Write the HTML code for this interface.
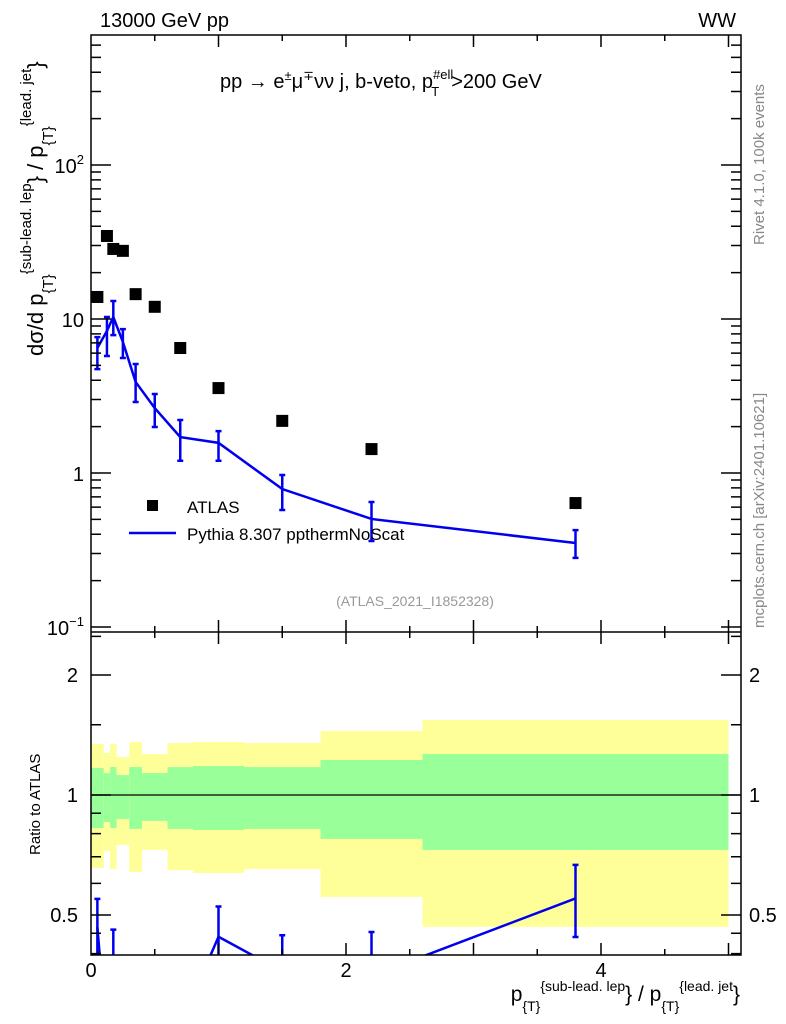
<!DOCTYPE html>
<html><head><meta charset="utf-8"><style>
body{margin:0;background:#fff;overflow:hidden;}
svg{display:block;font-family:"Liberation Sans",sans-serif;}
</style></head><body>
<svg id="chart" width="786" height="1024" viewBox="0 0 786 1024">
<defs>
<clipPath id="mainClip"><rect x="91" y="35" width="650" height="597"/></clipPath>
<clipPath id="ratioClip"><rect x="91" y="632" width="650" height="323"/></clipPath>
</defs>
<g id="bands" clip-path="url(#ratioClip)"></g>
<g id="ratio" clip-path="url(#ratioClip)"></g>
<g id="main" clip-path="url(#mainClip)"></g>
<g id="axes"></g>
<text x="100" y="27" font-size="20">13000 GeV pp</text>
<text x="736" y="27" font-size="20" text-anchor="end">WW</text>
<text x="220" y="88" font-size="20">pp  →  e<tspan font-size="13" dy="-8">±</tspan><tspan dy="8">μ</tspan><tspan font-size="13" dy="-8">∓</tspan><tspan dy="8">νν j, b-veto, p</tspan><tspan font-size="13" dy="-9">#ell</tspan><tspan font-size="13" dx="-22" dy="17">T</tspan><tspan dx="12" dy="-8">&gt;200 GeV</tspan></text>
<text x="415" y="606" font-size="14" fill="#999" text-anchor="middle">(ATLAS_2021_I1852328)</text>
<rect x="147" y="500" width="11" height="11" fill="#000"/>
<text x="187" y="513" font-size="17">ATLAS</text>
<line x1="129" y1="533" x2="176" y2="533" stroke="#0000ee" stroke-width="2.5"/>
<text x="187" y="540" font-size="17">Pythia 8.307 ppthermNoScat</text>
<text transform="translate(764,245) rotate(-90)" font-size="15" fill="#888">Rivet 4.1.0,  100k events</text>
<text transform="translate(764,628) rotate(-90)" font-size="15" fill="#888">mcplots.cern.ch [arXiv:2401.10621]</text>
<text transform="translate(43,356) rotate(-90)" font-size="22">dσ/d p<tspan font-size="15" dy="10">{T}</tspan><tspan font-size="15" dy="-22">{sub-lead. lep</tspan><tspan dy="12">} / p</tspan><tspan font-size="15" dy="10">{T}</tspan><tspan font-size="15" dy="-22">{lead. jet</tspan><tspan dy="12">}</tspan></text>
<text transform="translate(40,855) rotate(-90)" font-size="15">Ratio to ATLAS</text>
<text x="740" y="1001" font-size="21" text-anchor="end">p<tspan font-size="14" dy="10">{T}</tspan><tspan font-size="14" dy="-20">{sub-lead. lep</tspan><tspan dy="10">} / p</tspan><tspan font-size="14" dy="10">{T}</tspan><tspan font-size="14" dy="-20">{lead. jet</tspan><tspan dy="10">}</tspan></text>
</svg>
<script>
const binEdges=[0,0.1,0.15,0.2,0.3,0.4,0.6,0.8,1.2,1.8,2.6,5.0];
const xCenters=[0.05,0.125,0.175,0.25,0.35,0.5,0.7,1.0,1.5,2.2,3.8];
const atlasValues=[13.9,34.6,28.5,27.7,14.5,12.0,6.48,3.56,2.18,1.43,0.638];
const mcValues=[6.48,8.36,10.3,7.1,3.9,2.64,1.71,1.57,0.787,0.503,0.351];
const mcErrHi=[7.63,10.3,13.1,8.6,5.1,3.26,2.21,1.87,0.97,0.648,0.426];
const mcErrLo=[4.73,5.75,7.86,5.58,2.89,1.99,1.20,1.20,0.575,0.362,0.281];
const band1Hi=[1.343,1.275,1.343,1.245,1.358,1.267,1.35,1.358,1.35,1.447,1.542];
const band1Lo=[0.656,0.724,0.652,0.749,0.641,0.728,0.648,0.637,0.652,0.555,0.467];
const band2Hi=[1.169,1.135,1.175,1.122,1.175,1.135,1.175,1.182,1.175,1.224,1.267];
const band2Lo=[0.826,0.856,0.826,0.871,0.822,0.861,0.822,0.817,0.822,0.776,0.728];
const xTickLabels=[0,2,4];
const yDecades=[-1,0,1,2];
const ratioTickLabels=[0.5,1,2];

const NS='http://www.w3.org/2000/svg';
function X(v){return 91+v*127.5;}
function Y(v){return 473-154*Math.log10(v);}
function R(v){return 795-120*Math.log2(v);}
function mk(parent,tag,attrs){const e=document.createElementNS(NS,tag);for(const k in attrs)e.setAttribute(k,attrs[k]);document.getElementById(parent).appendChild(e);return e;}

for(let i=0;i<binEdges.length-1;i++){
  const x0=X(binEdges[i]),x1=X(binEdges[i+1]);
  const y=mk('bands','rect',{x:x0,y:R(band1Hi[i]),width:x1-x0,height:R(band1Lo[i])-R(band1Hi[i]),fill:'#ffff99'});
  
  
  const g=mk('bands','rect',{x:x0,y:R(band2Hi[i]),width:x1-x0,height:R(band2Lo[i])-R(band2Hi[i]),fill:'#99ff99'});
  
  
}
const one=mk('bands','line',{x1:91,x2:741,y1:R(1),y2:R(1),stroke:'#000','stroke-width':1.2});



atlasValues.forEach((v,i)=>{
  const r=mk('main','rect',{x:X(xCenters[i])-6,y:Y(v)-6,width:12,height:12,fill:'#000'});
  
  
});
let pts=mcValues.map((v,i)=>X(xCenters[i])+','+Y(v)).join(' ');
const pl=mk('main','polyline',{points:pts,fill:'none',stroke:'#0000ee','stroke-width':2.5});


mcValues.forEach((v,i)=>{
  const x=X(xCenters[i]);
  const e=mk('main','path',{d:`M${x},${Y(mcErrHi[i])}V${Y(mcErrLo[i])}M${x-3},${Y(mcErrHi[i])}h6M${x-3},${Y(mcErrLo[i])}h6`,stroke:'#0000ee','stroke-width':2.5,fill:'none'});
  
  
});
let rpts=mcValues.map((v,i)=>X(xCenters[i])+','+R(v/atlasValues[i])).join(' ');
const rl=mk('ratio','polyline',{points:rpts,fill:'none',stroke:'#0000ee','stroke-width':2.5});


mcValues.forEach((v,i)=>{
  const x=X(xCenters[i]),a=R(mcErrHi[i]/atlasValues[i]),b=R(mcErrLo[i]/atlasValues[i]);
  const e=mk('ratio','path',{d:`M${x},${a}V${b}M${x-3},${a}h6M${x-3},${b}h6`,stroke:'#0000ee','stroke-width':2.5,fill:'none'});
  
  
});

let d='M91,35H741V955H91ZM91,632H741';
for(let t=0;t<=5;t+=0.5){const x=X(t),L=(t%1===0)?12:6;
  d+=`M${x},35v${L}M${x},632v-${L}M${x},632v${L}M${x},955v-${L}`;}
for(let e=-2;e<=2;e++){for(let m=1;m<10;m++){const v=m*Math.pow(10,e),y=Y(v);if(y<35||y>632)continue;const L=m===1?20:10;d+=`M91,${y}h${L}M741,${y}h-${L}`;}}
[0.4,0.45,0.5,0.6,0.7,0.8,0.9,1,1.5,2,2.5].forEach(v=>{const y=R(v);const L=[0.5,1,2].includes(v)?20:10;d+=`M91,${y}h${L}M741,${y}h-${L}`;});
const ax=mk('axes','path',{d:d,fill:'none',stroke:'#000','stroke-width':1.5});


xTickLabels.forEach(t=>{
  const e=mk('axes','text',{x:X(t),y:977,'font-size':20,'text-anchor':'middle'});e.textContent=t;
  
  
});
yDecades.forEach(p=>{
  const e=mk('axes','text',{x:84,y:Y(Math.pow(10,p))+8,'font-size':20,'text-anchor':'end'});
  if(p===0)e.textContent='1';else if(p===1)e.textContent='10';else{e.textContent='10';const s=document.createElementNS(NS,'tspan');s.setAttribute('font-size','13');s.setAttribute('dy','-9');s.textContent=p===2?'2':'−1';e.appendChild(s);}
  
  
});
ratioTickLabels.forEach(t=>{
  const a=mk('axes','text',{x:78,y:R(t)+7,'font-size':20,'text-anchor':'end'});a.textContent=t;
  
  
  const b=mk('axes','text',{x:749,y:R(t)+7,'font-size':20});b.textContent=t;
  
  
});
</script>
</body></html>
